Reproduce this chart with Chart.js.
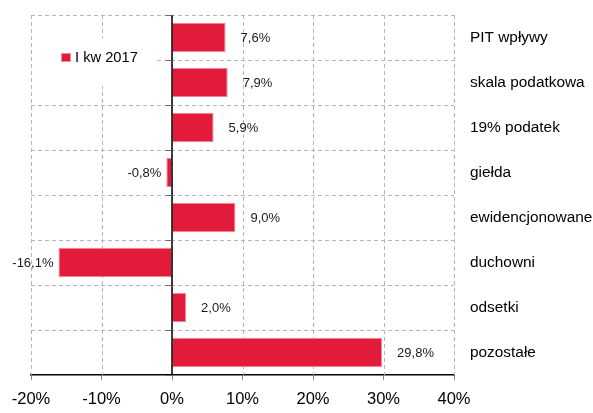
<!DOCTYPE html>
<html>
<head>
<meta charset="utf-8">
<script src="https://cdn.jsdelivr.net/npm/chart.js@4.4.0/dist/chart.umd.min.js"></script>
<style>
  html, body { margin: 0; padding: 0; background: #fff; }
  #wrap { width: 593px; height: 413px; }
</style>
</head>
<body>
<div id="wrap"><canvas id="chart"></canvas></div>
<script>
// Chart data
const categories = [
  "PIT wpływy",
  "skala podatkowa",
  "19% podatek",
  "giełda",
  "ewidencjonowane",
  "duchowni",
  "odsetki",
  "pozostałe",
];
const values = [7.6, 7.9, 5.9, -0.8, 9.0, -16.1, 2.0, 29.8];
const seriesLabel = "I kw 2017";
const xMin = -20;
const xMax = 40;
const xStep = 10;

const FONT = "'Liberation Sans', Arial, sans-serif";
const barColor = "#e31b3b";
const barEdge = "#f28a9a";
const gridColor = "#b5b5b5";
const gridDash = [4, 3];

const fmt = (v) => v.toFixed(1).replace(".", ",") + "%";

// category boundary pixels (between bars, plus the two edges)
function boundaries(chart) {
  const { chartArea, scales } = chart;
  const out = [chartArea.top];
  for (let i = 1; i < categories.length; i++) {
    out.push((scales.y.getPixelForValue(i - 1) + scales.y.getPixelForValue(i)) / 2);
  }
  out.push(chartArea.bottom);
  return out;
}

// Dashed grid and the legend box inside the plot
const gridLegendPlugin = {
  id: "gridLegend",
  beforeDatasetsDraw(chart) {
    const { ctx, chartArea, scales } = chart;
    ctx.save();
    ctx.strokeStyle = gridColor;
    ctx.lineWidth = 1;
    ctx.setLineDash(gridDash);
    scales.x.ticks.forEach((t) => {
      const x = Math.round(scales.x.getPixelForValue(t.value)) + 0.5;
      ctx.beginPath();
      ctx.moveTo(x, chartArea.top);
      ctx.lineTo(x, chartArea.bottom);
      ctx.stroke();
    });
    boundaries(chart).slice(0, -1).forEach((yy) => {
      const y = Math.round(yy) + 0.5;
      ctx.beginPath();
      ctx.moveTo(chartArea.left, y);
      ctx.lineTo(chartArea.right, y);
      ctx.stroke();
    });
    ctx.setLineDash([]);

    // legend
    const left = chartArea.left;
    const top = chartArea.top;
    ctx.fillStyle = "#fff";
    ctx.fillRect(left + 1, top + 23, 125, 48);
    ctx.fillStyle = barColor;
    ctx.fillRect(left + 30, top + 38, 10, 9);
    ctx.strokeStyle = barEdge;
    ctx.strokeRect(left + 30.5, top + 38.5, 9, 8);
    ctx.fillStyle = "#000";
    ctx.font = "14.7px " + FONT;
    ctx.textAlign = "left";
    ctx.textBaseline = "middle";
    ctx.fillText(chart.data.datasets[0].label, left + 44, top + 43);
    ctx.restore();
  },
};

// Solid zero line plus small marks at category boundaries
const zeroLinePlugin = {
  id: "zeroLine",
  afterDatasetsDraw(chart) {
    const { ctx, chartArea, scales } = chart;
    const x0 = scales.x.getPixelForValue(0);
    ctx.save();
    ctx.strokeStyle = "#000";
    ctx.lineWidth = 1.5;
    ctx.beginPath();
    ctx.moveTo(x0, chartArea.top);
    ctx.lineTo(x0, chartArea.bottom);
    ctx.stroke();
    ctx.strokeStyle = "#666";
    ctx.lineWidth = 1;
    boundaries(chart).forEach((yy) => {
      const y = Math.round(yy) + 0.5;
      ctx.beginPath();
      ctx.moveTo(x0 - 6, y);
      ctx.lineTo(x0, y);
      ctx.stroke();
    });
    ctx.restore();
  },
};

// Value labels next to the bars
const valueLabelPlugin = {
  id: "valueLabels",
  afterDatasetsDraw(chart) {
    const { ctx } = chart;
    const meta = chart.getDatasetMeta(0);
    ctx.save();
    ctx.font = "13px " + FONT;
    ctx.fillStyle = "#1a1a1a";
    ctx.textBaseline = "middle";
    meta.data.forEach((bar, i) => {
      const v = values[i];
      if (v >= 0) {
        ctx.textAlign = "left";
        ctx.fillText(fmt(v), bar.x + 15, bar.y + 1);
      } else {
        ctx.textAlign = "right";
        ctx.fillText(fmt(v), bar.x - 5, bar.y + 1);
      }
    });
    ctx.restore();
  },
};

new Chart(document.getElementById("chart").getContext("2d"), {
  type: "bar",
  data: {
    labels: categories,
    datasets: [
      {
        label: seriesLabel,
        data: values,
        backgroundColor: barColor,
        borderColor: barEdge,
        borderWidth: 1,
        barPercentage: 0.66,
        categoryPercentage: 1.0,
      },
    ],
  },
  options: {
    indexAxis: "y",
    responsive: true,
    maintainAspectRatio: false,
    animation: false,
    layout: { padding: { left: 31, top: 15, right: 0, bottom: 0 } },
    plugins: {
      legend: { display: false },
      tooltip: { enabled: false },
    },
    scales: {
      x: {
        min: xMin,
        max: xMax,
        ticks: {
          stepSize: xStep,
          callback: (v) => v + "%",
          font: { family: FONT, size: 16.5 },
          color: "#000",
          padding: 10,
        },
        grid: {
          drawOnChartArea: false,
          tickLength: 5,
          tickColor: "#888",
        },
        border: { display: true, color: "#000", width: 1.5 },
        afterFit(scale) {
          scale.height = 38;
        },
      },
      y: {
        position: "right",
        ticks: {
          font: { family: FONT, size: 15.4 },
          color: "#000",
          padding: 16,
        },
        grid: { display: false, drawTicks: false },
        border: { display: false },
        afterFit(scale) {
          scale.width = 139;
          scale.paddingTop = 0;
          scale.paddingBottom = 0;
        },
      },
    },
  },
  plugins: [gridLegendPlugin, zeroLinePlugin, valueLabelPlugin],
});
</script>
</body>
</html>
